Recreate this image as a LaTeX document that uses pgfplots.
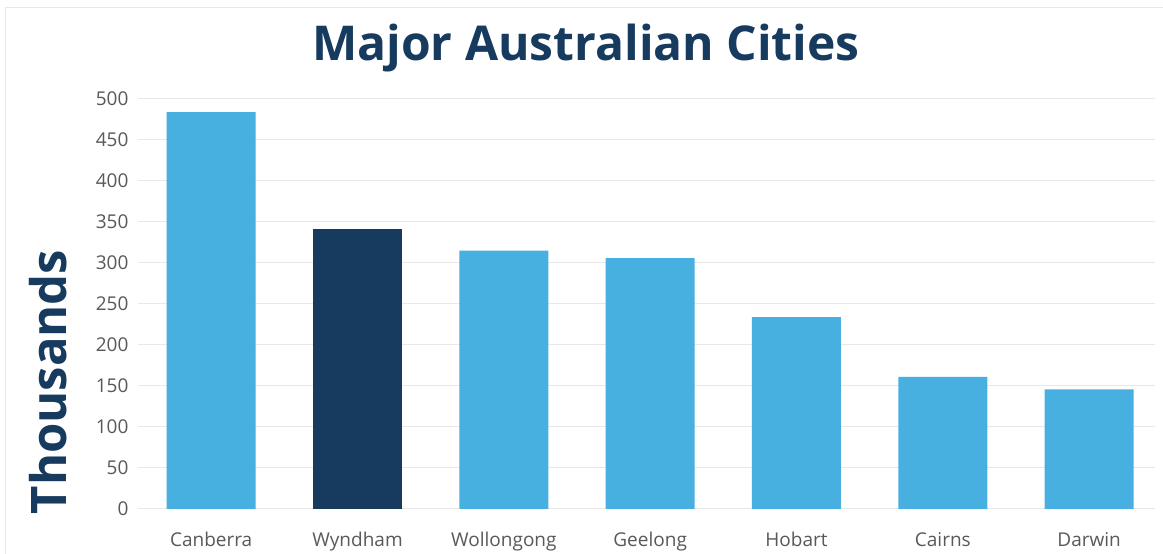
\documentclass[border=0pt]{standalone}
\usepackage{pgfplots}
\pgfplotsset{compat=1.18}
\usepackage{fontspec}
\setmainfont{Open Sans}
\definecolor{lightbar}{HTML}{47B0E1}
\definecolor{darkbar}{HTML}{173A5F}
\definecolor{titlecol}{HTML}{173A5F}
\definecolor{ticktext}{HTML}{595959}
\definecolor{gridcol}{HTML}{E8E8E8}
\begin{document}
\begin{tikzpicture}[x=1pt,y=1pt]
\useasboundingbox (0,0) rectangle (1163,554);
\fill[white] (0,0) rectangle (1163,554);
\draw[color=gridcol,line width=1pt] (5,0) -- (5,546) -- (1163,546);
\begin{axis}[
  at={(138pt,45pt)}, anchor=south west,
  scale only axis, width=1017pt, height=410pt,
  xmin=-0.5, xmax=6.45, ymin=0, ymax=500,
  ybar, bar width=89pt, bar shift=0pt,
  axis line style={draw=none},
  ytick={0,50,...,500},
  xtick={0,...,6},
  xticklabels={Canberra,Wyndham,Wollongong,Geelong,Hobart,Cairns,Darwin},
  major tick length=0pt,
  ymajorgrids, grid style={color=gridcol,line width=1pt},
  tick label style={font=\fontsize{19}{22}\selectfont, color=ticktext},
  /pgf/number format/assume math mode=true,
  yticklabel style={xshift=-6pt},
  xticklabel style={yshift=-20pt},
]
\addplot[fill=lightbar,draw=none] coordinates {(0,484) (2,315) (3,306) (4,234) (5,161) (6,146)};
\addplot[fill=darkbar,draw=none] coordinates {(1,341)};
\end{axis}
\node[font=\fontsize{48}{56}\selectfont\bfseries, color=titlecol] at (586,506) {Major Australian Cities};
\node[font=\fontsize{49}{56}\selectfont\bfseries, color=titlecol, rotate=90] at (48,172) {Thousands};
\end{tikzpicture}
\end{document}
